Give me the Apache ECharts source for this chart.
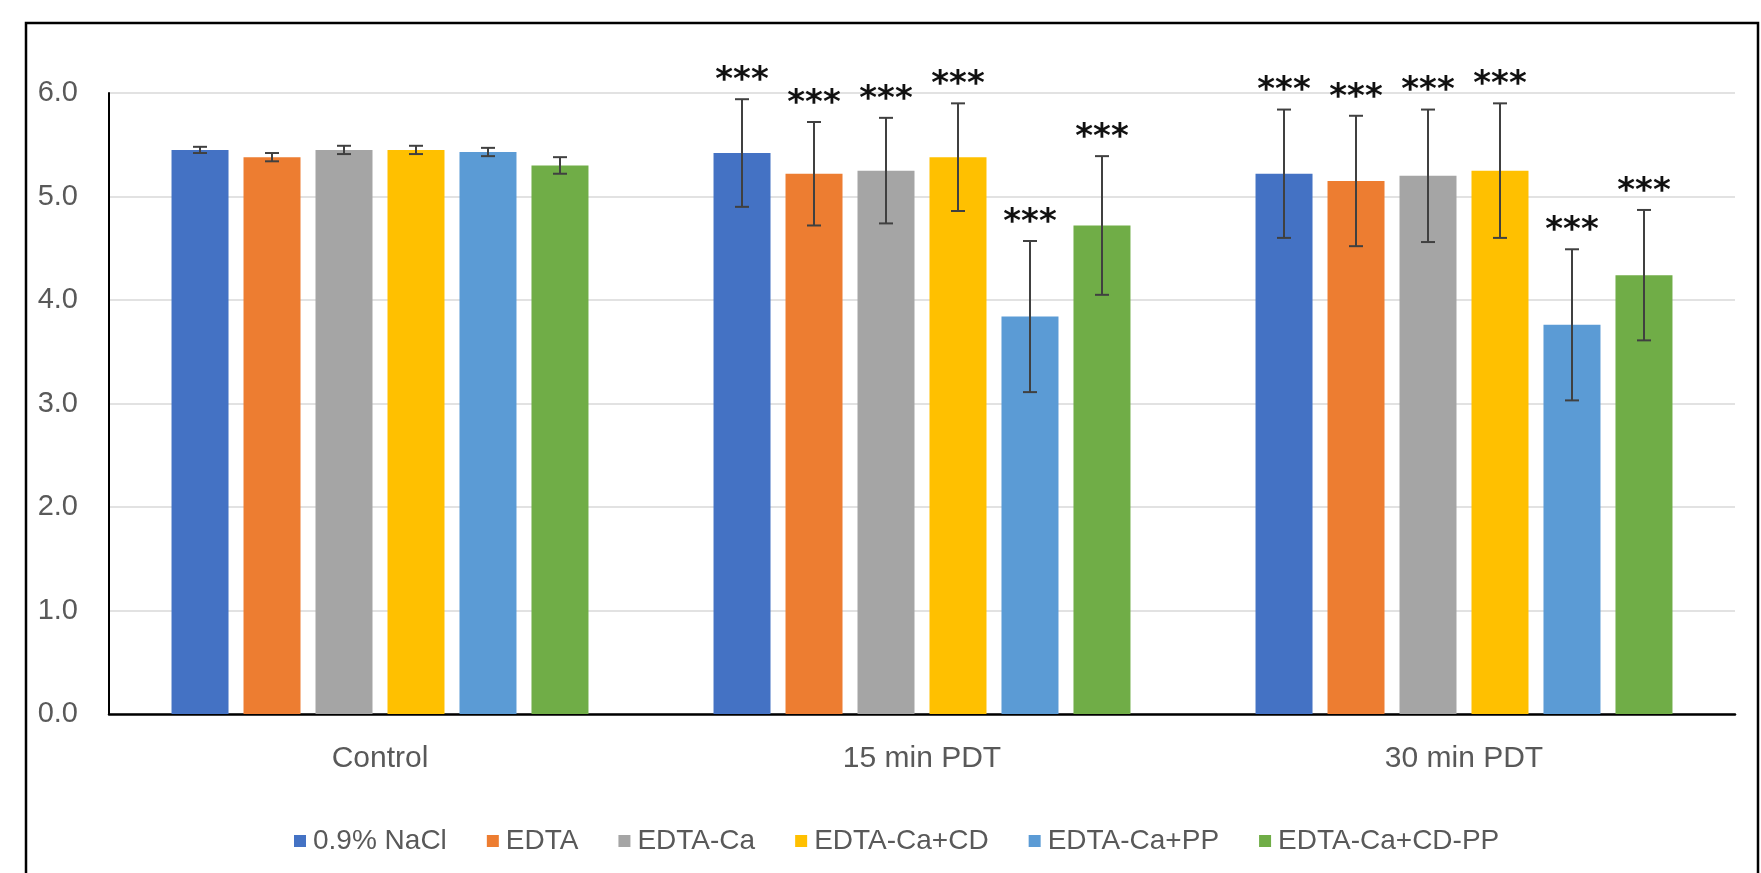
<!DOCTYPE html>
<html>
<head>
<meta charset="utf-8">
<script src="https://cdn.jsdelivr.net/npm/echarts@6/dist/echarts.min.js"></script>
<style>
  html, body { margin: 0; padding: 0; background: #fff; }
  #chart { width: 1761px; height: 873px; }
</style>
</head>
<body>
<div id="chart"></div>
<script>
// groups on the x axis
var groups = ['Control', '15 min PDT', '30 min PDT']
var seriesNames = ['0.9% NaCl', 'EDTA', 'EDTA-Ca', 'EDTA-Ca+CD', 'EDTA-Ca+PP', 'EDTA-Ca+CD-PP']
var colors = ['#4472C4', '#ED7D31', '#A5A5A5', '#FFC000', '#5B9BD5', '#70AD47']

// means, one array per series (Control, 15 min, 30 min)
var nacl = [5.45, 5.42, 5.22]
var edta = [5.38, 5.22, 5.15]
var edtaCa = [5.45, 5.25, 5.20]
var edtaCaCd = [5.45, 5.38, 5.25]
var edtaCaPp = [5.43, 3.84, 3.76]
var edtaCaCdPp = [5.30, 4.72, 4.24]

// error bar half lengths
var naclErr = [0.03, 0.52, 0.62]
var edtaErr = [0.04, 0.50, 0.63]
var edtaCaErr = [0.04, 0.51, 0.64]
var edtaCaCdErr = [0.04, 0.52, 0.65]
var edtaCaPpErr = [0.04, 0.73, 0.73]
var edtaCaCdPpErr = [0.08, 0.67, 0.63]

// significance marks per group
var marks = ['', '***', '***']

var yTicks = [0, 1, 2, 3, 4, 5, 6]

var means = [nacl, edta, edtaCa, edtaCaCd, edtaCaPp, edtaCaCdPp]
var errs = [naclErr, edtaErr, edtaCaErr, edtaCaCdErr, edtaCaPpErr, edtaCaCdPpErr]

var barW = 57
var barGapPx = 15

var chart = echarts.init(document.getElementById('chart'))

var series = []
for (let i = 0; i < seriesNames.length; i++) {
  series.push({
    name: seriesNames[i],
    type: 'bar',
    data: means[i],
    barWidth: barW,
    barGap: (barGapPx / barW * 100).toFixed(1) + '%',
    itemStyle: { color: colors[i] },
    z: 2
  })
}

// error bars + stars, drawn with a custom series for each bar series
for (let i = 0; i < seriesNames.length; i++) {
  let off = (i - (seriesNames.length - 1) / 2) * (barW + barGapPx)
  let data = []
  for (let j = 0; j < groups.length; j++) {
    data.push([j, means[i][j] - errs[i][j], means[i][j] + errs[i][j], marks[j]])
  }
  series.push({
    type: 'custom',
    name: seriesNames[i],
    data: data,
    z: 5,
    encode: { x: 0, y: [1, 2] },
    renderItem: function (params, api) {
      let lo = api.coord([api.value(0), api.value(1)])
      let hi = api.coord([api.value(0), api.value(2)])
      let x = lo[0] + off
      let cap = 7
      let st = { stroke: '#404040', lineWidth: 2 }
      let kids = [
        { type: 'line', shape: { x1: x, y1: lo[1], x2: x, y2: hi[1] }, style: st },
        { type: 'line', shape: { x1: x - cap, y1: lo[1], x2: x + cap, y2: lo[1] }, style: st },
        { type: 'line', shape: { x1: x - cap, y1: hi[1], x2: x + cap, y2: hi[1] }, style: st }
      ]
      let m = data[params.dataIndex][3]
      if (m) {
        kids.push({
          type: 'text',
          style: {
            text: m, x: x, y: hi[1] - 1,
            align: 'center', verticalAlign: 'bottom',
            font: 'bold 34px "DejaVu Sans"', fill: '#111'
          }
        })
      }
      return { type: 'group', children: kids }
    }
  })
}

var option = {
  animation: false,
  backgroundColor: '#fff',
  grid: { left: 109, right: 26, top: 93, bottom: 159 },
  legend: {
    data: seriesNames,
    left: 289,
    top: 822,
    itemWidth: 12,
    itemHeight: 12,
    itemGap: 40,
    icon: 'rect',
    textStyle: { fontFamily: 'Liberation Sans', fontSize: 28, color: '#595959', padding: [0, 0, 0, 2] }
  },
  xAxis: {
    type: 'category',
    data: groups,
    axisLine: { lineStyle: { color: '#000', width: 2.5 } },
    axisTick: { show: false },
    axisLabel: { fontFamily: 'Liberation Sans', fontSize: 30, color: '#595959', margin: 30 }
  },
  yAxis: {
    type: 'value',
    min: yTicks[0],
    max: yTicks[yTicks.length - 1],
    interval: 1,
    axisLine: { show: true, lineStyle: { color: '#000', width: 2 } },
    axisTick: { show: false },
    splitLine: { lineStyle: { color: '#d9d9d9', width: 1.5 } },
    axisLabel: {
      fontFamily: 'Liberation Sans', fontSize: 29, color: '#595959', margin: 31,
      formatter: function (v) { return v.toFixed(1) }
    }
  },
  graphic: [{
    type: 'rect',
    shape: { x: 26, y: 23, width: 1732, height: 900 },
    style: { fill: 'none', stroke: '#000', lineWidth: 2.5 },
    silent: true
  }],
  series: series
}

chart.setOption(option)
</script>
</body>
</html>
